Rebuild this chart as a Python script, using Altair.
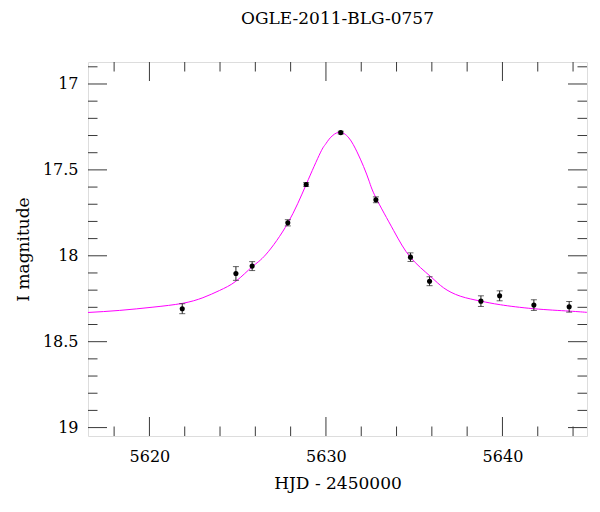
import altair as alt
import pandas as pd

# Observations (HJD - 2450000, I mag, error)
obs_t = [5621.86, 5624.90, 5625.82, 5627.84, 5628.88, 5630.84, 5632.83,
         5634.79, 5635.87, 5638.78, 5639.84, 5641.78, 5643.78]
obs_mag = [18.308, 18.103, 18.060, 17.808, 17.585, 17.283, 17.674,
           18.008, 18.148, 18.264, 18.233, 18.287, 18.297]
obs_err = [0.029, 0.040, 0.026, 0.018, 0.011, 0.008, 0.017,
           0.025, 0.026, 0.031, 0.029, 0.031, 0.031]

# Model curve
model_t = [5616.52, 5618.31, 5620.20, 5621.86, 5623.03, 5623.97, 5624.90,
           5625.82, 5626.62, 5627.85, 5628.88, 5629.68, 5629.96, 5630.24,
           5630.75, 5631.30, 5631.76, 5632.13, 5632.45, 5632.83, 5633.83,
           5634.78, 5635.91, 5636.66, 5637.61, 5638.78, 5639.88, 5641.76,
           5643.78, 5644.86]
model_mag = [18.330, 18.318, 18.299, 18.277, 18.244, 18.202, 18.148,
             18.064, 17.990, 17.808, 17.585, 17.401, 17.353, 17.314,
             17.281, 17.314, 17.395, 17.480, 17.566, 17.662, 17.852,
             18.008, 18.119, 18.186, 18.235, 18.264, 18.285, 18.308,
             18.322, 18.330]

x_major = [5620, 5630, 5640]
x_minor = [5618, 5622, 5624, 5626, 5628, 5632, 5634, 5636, 5638, 5642, 5644]
y_major = [17.0, 17.5, 18.0, 18.5, 19.0]
y_minor = [16.9, 17.1, 17.2, 17.3, 17.4, 17.6, 17.7, 17.8, 17.9,
           18.1, 18.2, 18.3, 18.4, 18.6, 18.7, 18.8, 18.9]

W, H = 499, 374
MAJ, MIN = 19, 9.5
FONT = "DejaVu Serif"
TICKC = "#3a3a3a"

obs = pd.DataFrame({"t": obs_t, "mag": obs_mag, "err": obs_err})
obs["lo"] = obs["mag"] - obs["err"]
obs["hi"] = obs["mag"] + obs["err"]
model = pd.DataFrame({"t": model_t, "mag": model_mag})

xs = alt.Scale(domain=[5616.52, 5644.79], nice=False, zero=False)
ys = alt.Scale(domain=[16.872, 19.049], reverse=True, nice=False, zero=False)

x_axis = alt.Axis(values=x_major, format="d", ticks=False, domain=False, grid=False,
                  labelFont=FONT, labelFontSize=16, labelColor="black",
                  labelPadding=12, labelFlush=False,
                  titleFont=FONT, titleFontSize=17, titleFontWeight="normal",
                  titleColor="black", titlePadding=11)
y_axis = alt.Axis(values=y_major, format=".1~f", ticks=False, domain=False, grid=False,
                  labelFont=FONT, labelFontSize=16, labelColor="black",
                  labelPadding=10, labelFlush=False,
                  titleFont=FONT, titleFontSize=17, titleFontWeight="normal",
                  titleColor="black", titlePadding=10)

X = lambda f: alt.X(f, type="quantitative", scale=xs, axis=x_axis, title="HJD - 2450000")
Y = lambda f: alt.Y(f, type="quantitative", scale=ys, axis=y_axis, title="I magnitude")

curve = alt.Chart(model).mark_line(color="#ff00ff", strokeWidth=1, clip=True,
                                   interpolate="natural").encode(x=X("t"), y=Y("mag"))

bars = alt.Chart(obs).mark_rule(color="#222222", strokeWidth=1).encode(
    x=X("t"), y=Y("lo"), y2="hi")
cap_lo = alt.Chart(obs).mark_tick(orient="horizontal", size=6, thickness=1,
                                  color="#222222").encode(x=X("t"), y=Y("lo"))
cap_hi = alt.Chart(obs).mark_tick(orient="horizontal", size=6, thickness=1,
                                  color="#222222").encode(x=X("t"), y=Y("hi"))
pts = alt.Chart(obs).mark_circle(size=26, color="black", opacity=1).encode(
    x=X("t"), y=Y("mag"))


def xticks(vals, length):
    d = pd.DataFrame({"t": vals})
    bot = alt.Chart(d).mark_rule(color=TICKC, strokeWidth=1).encode(
        x=X("t"), y=alt.value(H), y2=alt.value(H - length))
    top = alt.Chart(d).mark_rule(color=TICKC, strokeWidth=1).encode(
        x=X("t"), y=alt.value(0), y2=alt.value(length))
    return [bot, top]


def yticks(vals, length):
    d = pd.DataFrame({"mag": vals})
    left = alt.Chart(d).mark_rule(color=TICKC, strokeWidth=1).encode(
        y=Y("mag"), x=alt.value(0), x2=alt.value(length))
    right = alt.Chart(d).mark_rule(color=TICKC, strokeWidth=1).encode(
        y=Y("mag"), x=alt.value(W), x2=alt.value(W - length))
    return [left, right]


layers = ([curve] + xticks(x_major, MAJ) + xticks(x_minor, MIN)
          + yticks(y_major, MAJ) + yticks(y_minor, MIN)
          + [bars, cap_lo, cap_hi, pts])

chart = alt.layer(*layers).properties(
    width=W, height=H,
    title=alt.TitleParams("OGLE-2011-BLG-0757", font=FONT, fontSize=17,
                          fontWeight="normal", color="black", anchor="middle",
                          baseline="alphabetic", offset=21),
    autosize=alt.AutoSizeParams(type="none"),
    padding={"left": 80, "top": 54, "right": 5, "bottom": 60},
).configure_view(stroke="#222222", strokeWidth=1).configure(background="white")

chart.save("out.html", embed_options={"renderer": "svg", "actions": False})
